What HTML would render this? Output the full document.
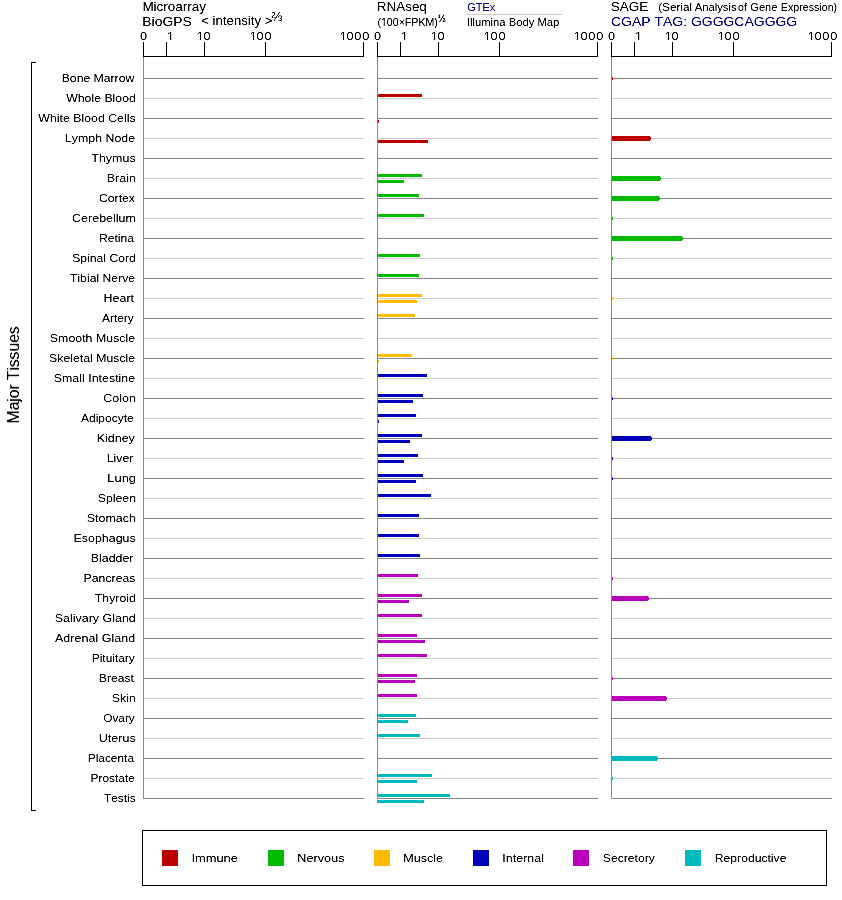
<!DOCTYPE html>
<html><head><meta charset="utf-8"><title>Expression</title><style>
html,body{margin:0;padding:0;background:#fff;width:842px;height:900px;overflow:hidden;}
svg{display:block;}
text{font-family:"Liberation Sans",Arial,Helvetica,sans-serif;font-kerning:none;}
</style></head><body>
<svg width="842" height="900" viewBox="0 0 842 900">
<g shape-rendering="crispEdges">
<rect x="467" y="14" width="95" height="1" fill="#c8c8c8"/>
<rect x="143" y="56" width="221" height="1" fill="#000"/>
<rect x="143" y="42" width="1" height="14" fill="#000"/>
<rect x="166" y="42" width="1" height="14" fill="#000"/>
<rect x="204" y="42" width="1" height="14" fill="#000"/>
<rect x="265" y="42" width="1" height="14" fill="#000"/>
<rect x="363" y="42" width="1" height="14" fill="#000"/>
<rect x="377" y="56" width="221" height="1" fill="#000"/>
<rect x="377" y="42" width="1" height="14" fill="#000"/>
<rect x="400" y="42" width="1" height="14" fill="#000"/>
<rect x="438" y="42" width="1" height="14" fill="#000"/>
<rect x="499" y="42" width="1" height="14" fill="#000"/>
<rect x="597" y="42" width="1" height="14" fill="#000"/>
<rect x="611" y="56" width="221" height="1" fill="#000"/>
<rect x="611" y="42" width="1" height="14" fill="#000"/>
<rect x="634" y="42" width="1" height="14" fill="#000"/>
<rect x="672" y="42" width="1" height="14" fill="#000"/>
<rect x="733" y="42" width="1" height="14" fill="#000"/>
<rect x="831" y="42" width="1" height="14" fill="#000"/>
<rect x="143" y="78" width="221" height="1" fill="#888888"/>
<rect x="377" y="78" width="221" height="1" fill="#888888"/>
<rect x="611" y="78" width="221" height="1" fill="#888888"/>
<rect x="143" y="98" width="221" height="1" fill="#cccccc"/>
<rect x="377" y="98" width="221" height="1" fill="#cccccc"/>
<rect x="611" y="98" width="221" height="1" fill="#cccccc"/>
<rect x="143" y="118" width="221" height="1" fill="#888888"/>
<rect x="377" y="118" width="221" height="1" fill="#888888"/>
<rect x="611" y="118" width="221" height="1" fill="#888888"/>
<rect x="143" y="138" width="221" height="1" fill="#cccccc"/>
<rect x="377" y="138" width="221" height="1" fill="#cccccc"/>
<rect x="611" y="138" width="221" height="1" fill="#cccccc"/>
<rect x="143" y="158" width="221" height="1" fill="#888888"/>
<rect x="377" y="158" width="221" height="1" fill="#888888"/>
<rect x="611" y="158" width="221" height="1" fill="#888888"/>
<rect x="143" y="178" width="221" height="1" fill="#cccccc"/>
<rect x="377" y="178" width="221" height="1" fill="#cccccc"/>
<rect x="611" y="178" width="221" height="1" fill="#cccccc"/>
<rect x="143" y="198" width="221" height="1" fill="#888888"/>
<rect x="377" y="198" width="221" height="1" fill="#888888"/>
<rect x="611" y="198" width="221" height="1" fill="#888888"/>
<rect x="143" y="218" width="221" height="1" fill="#cccccc"/>
<rect x="377" y="218" width="221" height="1" fill="#cccccc"/>
<rect x="611" y="218" width="221" height="1" fill="#cccccc"/>
<rect x="143" y="238" width="221" height="1" fill="#888888"/>
<rect x="377" y="238" width="221" height="1" fill="#888888"/>
<rect x="611" y="238" width="221" height="1" fill="#888888"/>
<rect x="143" y="258" width="221" height="1" fill="#cccccc"/>
<rect x="377" y="258" width="221" height="1" fill="#cccccc"/>
<rect x="611" y="258" width="221" height="1" fill="#cccccc"/>
<rect x="143" y="278" width="221" height="1" fill="#888888"/>
<rect x="377" y="278" width="221" height="1" fill="#888888"/>
<rect x="611" y="278" width="221" height="1" fill="#888888"/>
<rect x="143" y="298" width="221" height="1" fill="#cccccc"/>
<rect x="377" y="298" width="221" height="1" fill="#cccccc"/>
<rect x="611" y="298" width="221" height="1" fill="#cccccc"/>
<rect x="143" y="318" width="221" height="1" fill="#888888"/>
<rect x="377" y="318" width="221" height="1" fill="#888888"/>
<rect x="611" y="318" width="221" height="1" fill="#888888"/>
<rect x="143" y="338" width="221" height="1" fill="#cccccc"/>
<rect x="377" y="338" width="221" height="1" fill="#cccccc"/>
<rect x="611" y="338" width="221" height="1" fill="#cccccc"/>
<rect x="143" y="358" width="221" height="1" fill="#888888"/>
<rect x="377" y="358" width="221" height="1" fill="#888888"/>
<rect x="611" y="358" width="221" height="1" fill="#888888"/>
<rect x="143" y="378" width="221" height="1" fill="#cccccc"/>
<rect x="377" y="378" width="221" height="1" fill="#cccccc"/>
<rect x="611" y="378" width="221" height="1" fill="#cccccc"/>
<rect x="143" y="398" width="221" height="1" fill="#888888"/>
<rect x="377" y="398" width="221" height="1" fill="#888888"/>
<rect x="611" y="398" width="221" height="1" fill="#888888"/>
<rect x="143" y="418" width="221" height="1" fill="#cccccc"/>
<rect x="377" y="418" width="221" height="1" fill="#cccccc"/>
<rect x="611" y="418" width="221" height="1" fill="#cccccc"/>
<rect x="143" y="438" width="221" height="1" fill="#888888"/>
<rect x="377" y="438" width="221" height="1" fill="#888888"/>
<rect x="611" y="438" width="221" height="1" fill="#888888"/>
<rect x="143" y="458" width="221" height="1" fill="#cccccc"/>
<rect x="377" y="458" width="221" height="1" fill="#cccccc"/>
<rect x="611" y="458" width="221" height="1" fill="#cccccc"/>
<rect x="143" y="478" width="221" height="1" fill="#888888"/>
<rect x="377" y="478" width="221" height="1" fill="#888888"/>
<rect x="611" y="478" width="221" height="1" fill="#888888"/>
<rect x="143" y="498" width="221" height="1" fill="#cccccc"/>
<rect x="377" y="498" width="221" height="1" fill="#cccccc"/>
<rect x="611" y="498" width="221" height="1" fill="#cccccc"/>
<rect x="143" y="518" width="221" height="1" fill="#888888"/>
<rect x="377" y="518" width="221" height="1" fill="#888888"/>
<rect x="611" y="518" width="221" height="1" fill="#888888"/>
<rect x="143" y="538" width="221" height="1" fill="#cccccc"/>
<rect x="377" y="538" width="221" height="1" fill="#cccccc"/>
<rect x="611" y="538" width="221" height="1" fill="#cccccc"/>
<rect x="143" y="558" width="221" height="1" fill="#888888"/>
<rect x="377" y="558" width="221" height="1" fill="#888888"/>
<rect x="611" y="558" width="221" height="1" fill="#888888"/>
<rect x="143" y="578" width="221" height="1" fill="#cccccc"/>
<rect x="377" y="578" width="221" height="1" fill="#cccccc"/>
<rect x="611" y="578" width="221" height="1" fill="#cccccc"/>
<rect x="143" y="598" width="221" height="1" fill="#888888"/>
<rect x="377" y="598" width="221" height="1" fill="#888888"/>
<rect x="611" y="598" width="221" height="1" fill="#888888"/>
<rect x="143" y="618" width="221" height="1" fill="#cccccc"/>
<rect x="377" y="618" width="221" height="1" fill="#cccccc"/>
<rect x="611" y="618" width="221" height="1" fill="#cccccc"/>
<rect x="143" y="638" width="221" height="1" fill="#888888"/>
<rect x="377" y="638" width="221" height="1" fill="#888888"/>
<rect x="611" y="638" width="221" height="1" fill="#888888"/>
<rect x="143" y="658" width="221" height="1" fill="#cccccc"/>
<rect x="377" y="658" width="221" height="1" fill="#cccccc"/>
<rect x="611" y="658" width="221" height="1" fill="#cccccc"/>
<rect x="143" y="678" width="221" height="1" fill="#888888"/>
<rect x="377" y="678" width="221" height="1" fill="#888888"/>
<rect x="611" y="678" width="221" height="1" fill="#888888"/>
<rect x="143" y="698" width="221" height="1" fill="#cccccc"/>
<rect x="377" y="698" width="221" height="1" fill="#cccccc"/>
<rect x="611" y="698" width="221" height="1" fill="#cccccc"/>
<rect x="143" y="718" width="221" height="1" fill="#888888"/>
<rect x="377" y="718" width="221" height="1" fill="#888888"/>
<rect x="611" y="718" width="221" height="1" fill="#888888"/>
<rect x="143" y="738" width="221" height="1" fill="#cccccc"/>
<rect x="377" y="738" width="221" height="1" fill="#cccccc"/>
<rect x="611" y="738" width="221" height="1" fill="#cccccc"/>
<rect x="143" y="758" width="221" height="1" fill="#888888"/>
<rect x="377" y="758" width="221" height="1" fill="#888888"/>
<rect x="611" y="758" width="221" height="1" fill="#888888"/>
<rect x="143" y="778" width="221" height="1" fill="#cccccc"/>
<rect x="377" y="778" width="221" height="1" fill="#cccccc"/>
<rect x="611" y="778" width="221" height="1" fill="#cccccc"/>
<rect x="143" y="798" width="221" height="1" fill="#888888"/>
<rect x="377" y="798" width="221" height="1" fill="#888888"/>
<rect x="611" y="798" width="221" height="1" fill="#888888"/>
<rect x="611" y="76" width="1" height="5" fill="#bb0000"/>
<rect x="611" y="77" width="2" height="3" fill="#bb0000"/>
<rect x="377" y="94" width="45" height="3" fill="#bb0000"/>
<rect x="377" y="120" width="2" height="3" fill="#bb0000"/>
<rect x="377" y="140" width="51" height="3" fill="#bb0000"/>
<rect x="611" y="136" width="39" height="5" fill="#bb0000"/>
<rect x="611" y="137" width="40" height="3" fill="#bb0000"/>
<rect x="377" y="174" width="45" height="3" fill="#00bb00"/>
<rect x="377" y="180" width="27" height="3" fill="#00bb00"/>
<rect x="611" y="176" width="49" height="5" fill="#00bb00"/>
<rect x="611" y="177" width="50" height="3" fill="#00bb00"/>
<rect x="377" y="194" width="42" height="3" fill="#00bb00"/>
<rect x="611" y="196" width="48" height="5" fill="#00bb00"/>
<rect x="611" y="197" width="49" height="3" fill="#00bb00"/>
<rect x="377" y="214" width="47" height="3" fill="#00bb00"/>
<rect x="611" y="216" width="1" height="5" fill="#00bb00"/>
<rect x="611" y="217" width="2" height="3" fill="#00bb00"/>
<rect x="611" y="236" width="71" height="5" fill="#00bb00"/>
<rect x="611" y="237" width="72" height="3" fill="#00bb00"/>
<rect x="377" y="254" width="43" height="3" fill="#00bb00"/>
<rect x="611" y="256" width="1" height="5" fill="#00bb00"/>
<rect x="611" y="257" width="2" height="3" fill="#00bb00"/>
<rect x="377" y="274" width="42" height="3" fill="#00bb00"/>
<rect x="377" y="294" width="45" height="3" fill="#ffbb00"/>
<rect x="377" y="300" width="40" height="3" fill="#ffbb00"/>
<rect x="611" y="296" width="1" height="5" fill="#ffbb00"/>
<rect x="611" y="297" width="2" height="3" fill="#ffbb00"/>
<rect x="377" y="314" width="38" height="3" fill="#ffbb00"/>
<rect x="377" y="354" width="35" height="3" fill="#ffbb00"/>
<rect x="377" y="360" width="2" height="3" fill="#ffbb00"/>
<rect x="611" y="356" width="1" height="5" fill="#ffbb00"/>
<rect x="611" y="357" width="2" height="3" fill="#ffbb00"/>
<rect x="377" y="374" width="50" height="3" fill="#0000bb"/>
<rect x="377" y="394" width="46" height="3" fill="#0000bb"/>
<rect x="377" y="400" width="36" height="3" fill="#0000bb"/>
<rect x="611" y="396" width="1" height="5" fill="#0000bb"/>
<rect x="611" y="397" width="2" height="3" fill="#0000bb"/>
<rect x="377" y="414" width="39" height="3" fill="#0000bb"/>
<rect x="377" y="420" width="2" height="3" fill="#0000bb"/>
<rect x="377" y="434" width="45" height="3" fill="#0000bb"/>
<rect x="377" y="440" width="33" height="3" fill="#0000bb"/>
<rect x="611" y="436" width="40" height="5" fill="#0000bb"/>
<rect x="611" y="437" width="41" height="3" fill="#0000bb"/>
<rect x="377" y="454" width="41" height="3" fill="#0000bb"/>
<rect x="377" y="460" width="27" height="3" fill="#0000bb"/>
<rect x="611" y="456" width="1" height="5" fill="#0000bb"/>
<rect x="611" y="457" width="2" height="3" fill="#0000bb"/>
<rect x="377" y="474" width="46" height="3" fill="#0000bb"/>
<rect x="377" y="480" width="39" height="3" fill="#0000bb"/>
<rect x="611" y="476" width="1" height="5" fill="#0000bb"/>
<rect x="611" y="477" width="2" height="3" fill="#0000bb"/>
<rect x="377" y="494" width="54" height="3" fill="#0000bb"/>
<rect x="377" y="514" width="42" height="3" fill="#0000bb"/>
<rect x="377" y="534" width="42" height="3" fill="#0000bb"/>
<rect x="377" y="554" width="43" height="3" fill="#0000bb"/>
<rect x="377" y="574" width="41" height="3" fill="#bb00bb"/>
<rect x="611" y="576" width="1" height="5" fill="#bb00bb"/>
<rect x="611" y="577" width="2" height="3" fill="#bb00bb"/>
<rect x="377" y="594" width="45" height="3" fill="#bb00bb"/>
<rect x="377" y="600" width="32" height="3" fill="#bb00bb"/>
<rect x="611" y="596" width="37" height="5" fill="#bb00bb"/>
<rect x="611" y="597" width="38" height="3" fill="#bb00bb"/>
<rect x="377" y="614" width="45" height="3" fill="#bb00bb"/>
<rect x="377" y="634" width="40" height="3" fill="#bb00bb"/>
<rect x="377" y="640" width="48" height="3" fill="#bb00bb"/>
<rect x="377" y="654" width="50" height="3" fill="#bb00bb"/>
<rect x="377" y="674" width="40" height="3" fill="#bb00bb"/>
<rect x="377" y="680" width="38" height="3" fill="#bb00bb"/>
<rect x="611" y="676" width="1" height="5" fill="#bb00bb"/>
<rect x="611" y="677" width="2" height="3" fill="#bb00bb"/>
<rect x="377" y="694" width="40" height="3" fill="#bb00bb"/>
<rect x="611" y="696" width="55" height="5" fill="#bb00bb"/>
<rect x="611" y="697" width="56" height="3" fill="#bb00bb"/>
<rect x="377" y="714" width="39" height="3" fill="#00bbbb"/>
<rect x="377" y="720" width="31" height="3" fill="#00bbbb"/>
<rect x="377" y="734" width="43" height="3" fill="#00bbbb"/>
<rect x="611" y="756" width="46" height="5" fill="#00bbbb"/>
<rect x="611" y="757" width="47" height="3" fill="#00bbbb"/>
<rect x="377" y="774" width="55" height="3" fill="#00bbbb"/>
<rect x="377" y="780" width="40" height="3" fill="#00bbbb"/>
<rect x="611" y="776" width="1" height="5" fill="#00bbbb"/>
<rect x="611" y="777" width="2" height="3" fill="#00bbbb"/>
<rect x="377" y="794" width="73" height="3" fill="#00bbbb"/>
<rect x="377" y="800" width="47" height="3" fill="#00bbbb"/>
<rect x="143" y="57" width="1" height="742" fill="#888888"/>
<rect x="377" y="57" width="1" height="742" fill="#888888"/>
<rect x="611" y="57" width="1" height="742" fill="#888888"/>
<rect x="31" y="62" width="1" height="749" fill="#000"/>
<rect x="31" y="62" width="5" height="1" fill="#000"/>
<rect x="31" y="810" width="5" height="1" fill="#000"/>
<rect x="142" y="830" width="685" height="1" fill="#000"/>
<rect x="142" y="885" width="685" height="1" fill="#000"/>
<rect x="142" y="830" width="1" height="56" fill="#000"/>
<rect x="826" y="830" width="1" height="56" fill="#000"/>
<rect x="162" y="850" width="16" height="16" fill="#bb0000"/>
<rect x="268" y="850" width="16" height="16" fill="#00bb00"/>
<rect x="374" y="850" width="16" height="16" fill="#ffbb00"/>
<rect x="473" y="850" width="16" height="16" fill="#0000bb"/>
<rect x="573" y="850" width="16" height="16" fill="#bb00bb"/>
<rect x="685" y="850" width="16" height="16" fill="#00bbbb"/>
</g>
<defs><filter id="crisp" x="0" y="0" width="842" height="900" filterUnits="userSpaceOnUse"><feComponentTransfer><feFuncA type="table" tableValues="0 0.18 0.95 1"/></feComponentTransfer></filter></defs>
<g filter="url(#crisp)">
<text transform="translate(142.39,11) scale(1.1246,1)" style="font-size:12px">Microarray</text>
<text transform="translate(142.36,26) scale(1.1567,1)" style="font-size:12px">BioGPS</text>
<text transform="translate(201.25,25) scale(1.1003,1)" style="font-size:12px">&lt; intensity &gt;</text>
<text transform="translate(271.28,21) scale(1.0117,1)" style="font-size:13px">⅔</text>
<text transform="translate(376.80,11) scale(1.1204,1)" style="font-size:12px">RNAseq</text>
<text transform="translate(377.44,26) scale(1.0624,1)" style="font-size:10px">(100×FPKM)</text>
<text transform="translate(437.52,21.8) scale(0.9327,1)" style="font-size:11px" font-weight="bold">½</text>
<text transform="translate(467.30,11) scale(0.9894,1)" style="font-size:11px" fill="#000080">GTEx</text>
<text transform="translate(466.76,26) scale(1.0235,1)" style="font-size:11px">Illumina Body Map</text>
<text transform="translate(610.68,11) scale(1.1306,1)" style="font-size:12px">SAGE</text>
<text transform="translate(658.22,11) scale(1.0653,1)" style="font-size:11px">(Serial</text>
<text transform="translate(694.68,11) scale(1.0237,1)" style="font-size:11px">Analysis</text>
<text transform="translate(738.06,11) scale(0.9624,1)" style="font-size:11px">of</text>
<text transform="translate(750.34,11) scale(1.0051,1)" style="font-size:11px">Gene</text>
<text transform="translate(780.82,11) scale(0.9718,1)" style="font-size:11px">Expression)</text>
<text transform="translate(610.99,26) scale(1.1646,1)" style="font-size:12px" fill="#000080">CGAP TAG: GGGGCAGGGG</text>
<text transform="scale(1.16,1)" x="120.777" y="40" style="font-size:11px">0</text>
<text transform="scale(1.16,1)" x="143.891" y="40" style="font-size:11px">1</text>
<text transform="scale(1.16,1)" x="169.538 175.346" y="40" style="font-size:11px">10</text>
<text transform="scale(1.16,1)" x="215.313 221.036 227.932" y="40" style="font-size:11px">100</text>
<text transform="scale(1.16,1)" x="292.900 298.648 305.432 312.329" y="40" style="font-size:11px">1000</text>
<text transform="scale(1.16,1)" x="322.501" y="40" style="font-size:11px">0</text>
<text transform="scale(1.16,1)" x="345.615" y="40" style="font-size:11px">1</text>
<text transform="scale(1.16,1)" x="371.262 377.070" y="40" style="font-size:11px">10</text>
<text transform="scale(1.16,1)" x="417.038 422.760 429.656" y="40" style="font-size:11px">100</text>
<text transform="scale(1.16,1)" x="494.624 500.372 507.156 514.053" y="40" style="font-size:11px">1000</text>
<text transform="scale(1.16,1)" x="524.225" y="40" style="font-size:11px">0</text>
<text transform="scale(1.16,1)" x="547.339" y="40" style="font-size:11px">1</text>
<text transform="scale(1.16,1)" x="572.986 578.794" y="40" style="font-size:11px">10</text>
<text transform="scale(1.16,1)" x="618.762 624.484 631.380" y="40" style="font-size:11px">100</text>
<text transform="scale(1.16,1)" x="696.348 702.096 708.880 715.777" y="40" style="font-size:11px">1000</text>
<text transform="translate(61.70,82) scale(1.1110,1)" style="font-size:11px">Bone Marrow</text>
<text transform="translate(66.15,102) scale(1.1199,1)" style="font-size:11px">Whole Blood</text>
<text transform="translate(38.35,122) scale(1.1208,1)" style="font-size:11px">White Blood Cells</text>
<text transform="translate(64.78,142) scale(1.1299,1)" style="font-size:11px">Lymph Node</text>
<text transform="translate(91.32,162) scale(1.1333,1)" style="font-size:11px">Thymus</text>
<text transform="translate(106.67,182) scale(1.1429,1)" style="font-size:11px">Brain</text>
<text transform="translate(98.98,202) scale(1.1097,1)" style="font-size:11px">Cortex</text>
<text transform="translate(72.06,222) scale(1.1371,1)" style="font-size:11px">Cerebellum</text>
<text transform="translate(98.90,242) scale(1.1070,1)" style="font-size:11px">Retina</text>
<text transform="translate(72.15,262) scale(1.1108,1)" style="font-size:11px">Spinal Cord</text>
<text transform="translate(69.92,282) scale(1.1131,1)" style="font-size:11px">Tibial Nerve</text>
<text transform="translate(103.58,302) scale(1.1306,1)" style="font-size:11px">Heart</text>
<text transform="translate(101.98,322) scale(1.0821,1)" style="font-size:11px">Artery</text>
<text transform="translate(49.84,342) scale(1.1267,1)" style="font-size:11px">Smooth Muscle</text>
<text transform="translate(49.04,362) scale(1.1191,1)" style="font-size:11px">Skeletal Muscle</text>
<text transform="translate(53.74,382) scale(1.1299,1)" style="font-size:11px">Small Intestine</text>
<text transform="translate(103.16,402) scale(1.1432,1)" style="font-size:11px">Colon</text>
<text transform="translate(80.98,422) scale(1.0942,1)" style="font-size:11px">Adipocyte</text>
<text transform="translate(96.68,442) scale(1.1342,1)" style="font-size:11px">Kidney</text>
<text transform="translate(106.68,462) scale(1.1249,1)" style="font-size:11px">Liver</text>
<text transform="translate(107.34,482) scale(1.1724,1)" style="font-size:11px">Lung</text>
<text transform="translate(97.84,502) scale(1.1139,1)" style="font-size:11px">Spleen</text>
<text transform="translate(86.73,522) scale(1.1352,1)" style="font-size:11px">Stomach</text>
<text transform="translate(73.58,542) scale(1.1276,1)" style="font-size:11px">Esophagus</text>
<text transform="translate(90.78,562) scale(1.1268,1)" style="font-size:11px">Bladder</text>
<text transform="translate(83.59,582) scale(1.1180,1)" style="font-size:11px">Pancreas</text>
<text transform="translate(94.82,602) scale(1.1197,1)" style="font-size:11px">Thyroid</text>
<text transform="translate(54.73,622) scale(1.1348,1)" style="font-size:11px">Salivary Gland</text>
<text transform="translate(54.98,642) scale(1.1409,1)" style="font-size:11px">Adrenal Gland</text>
<text transform="translate(91.72,662) scale(1.0847,1)" style="font-size:11px">Pituitary</text>
<text transform="translate(98.80,682) scale(1.1068,1)" style="font-size:11px">Breast</text>
<text transform="translate(111.84,702) scale(1.1296,1)" style="font-size:11px">Skin</text>
<text transform="translate(103.24,722) scale(1.0766,1)" style="font-size:11px">Ovary</text>
<text transform="translate(98.84,742) scale(1.1364,1)" style="font-size:11px">Uterus</text>
<text transform="translate(87.72,762) scale(1.0834,1)" style="font-size:11px">Placenta</text>
<text transform="translate(90.62,782) scale(1.0815,1)" style="font-size:11px">Prostate</text>
<text transform="translate(103.93,802) scale(1.0804,1)" style="font-size:11px">Testis</text>
<text transform="translate(19,423.56) rotate(-90)" x="0" y="0" style="font-size:16px;letter-spacing:-0.186px">Major Tissues</text>
<text transform="translate(191.41,862) scale(1.1718,1)" style="font-size:11px">Immune</text>
<text transform="translate(297.26,862) scale(1.1573,1)" style="font-size:11px">Nervous</text>
<text transform="translate(403.37,862) scale(1.1360,1)" style="font-size:11px">Muscle</text>
<text transform="translate(502.35,862) scale(1.1334,1)" style="font-size:11px">Internal</text>
<text transform="translate(602.85,862) scale(1.1063,1)" style="font-size:11px">Secretory</text>
<text transform="translate(714.84,862) scale(1.1055,1)" style="font-size:11px">Reproductive</text>
</g>
<g fill="#fff">
<rect x="167.11" y="39" width="3.01" height="1.5"/><rect x="171.25" y="39" width="2.96" height="1.5"/>
<rect x="196.86" y="39" width="3.01" height="1.5"/><rect x="201.00" y="39" width="2.96" height="1.5"/>
<rect x="249.96" y="39" width="3.01" height="1.5"/><rect x="254.10" y="39" width="2.96" height="1.5"/>
<rect x="339.96" y="39" width="3.01" height="1.5"/><rect x="344.10" y="39" width="2.96" height="1.5"/>
<rect x="401.11" y="39" width="3.01" height="1.5"/><rect x="405.25" y="39" width="2.96" height="1.5"/>
<rect x="430.86" y="39" width="3.01" height="1.5"/><rect x="435.00" y="39" width="2.96" height="1.5"/>
<rect x="483.96" y="39" width="3.01" height="1.5"/><rect x="488.10" y="39" width="2.96" height="1.5"/>
<rect x="573.96" y="39" width="3.01" height="1.5"/><rect x="578.10" y="39" width="2.96" height="1.5"/>
<rect x="635.11" y="39" width="3.01" height="1.5"/><rect x="639.25" y="39" width="2.96" height="1.5"/>
<rect x="664.86" y="39" width="3.01" height="1.5"/><rect x="669.00" y="39" width="2.96" height="1.5"/>
<rect x="717.96" y="39" width="3.01" height="1.5"/><rect x="722.10" y="39" width="2.96" height="1.5"/>
<rect x="807.96" y="39" width="3.01" height="1.5"/><rect x="812.10" y="39" width="2.96" height="1.5"/>
<rect x="381.18" y="25" width="2.47" height="1.5"/><rect x="384.59" y="25" width="2.14" height="1.5"/>
</g>
</svg>
</body></html>
